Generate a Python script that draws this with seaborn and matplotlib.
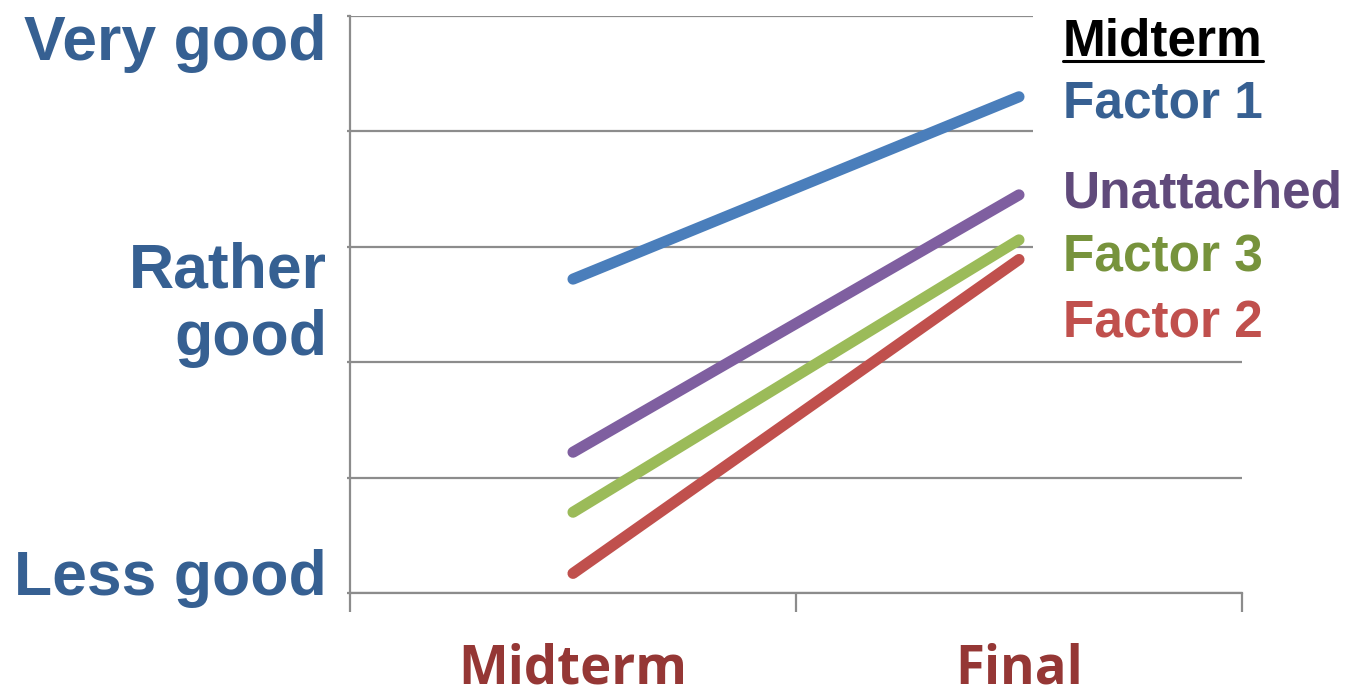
import matplotlib
matplotlib.use("Agg")
import matplotlib.pyplot as plt
import numpy as np
import pandas as pd
import seaborn as sns

# Survey waves and average rating per group (0 = less good ... 5 = very good)
waves = ["Midterm", "Final"]
groups = ["Factor 1", "Unattached", "Factor 3", "Factor 2"]
factor1 = [2.72, 4.30]
unattached = [1.22, 3.45]
factor3 = [0.70, 3.06]
factor2 = [0.17, 2.89]
level_labels = ["Very good", "Rather\ngood", "Less good"]
level_values = [4.62, 2.5, -0.02]
legend_title = "Midterm"

line_colors = {"Factor 1": "#4a7ebb", "Unattached": "#7f5fa0",
               "Factor 3": "#9bbb59", "Factor 2": "#c0504d"}
text_colors = {"Factor 1": "#376092", "Unattached": "#604a7b",
               "Factor 3": "#77933c", "Factor 2": "#c0504d"}

series = dict(zip(groups, [factor1, unattached, factor3, factor2]))
df = pd.DataFrame(
    [(g, w, v) for g, vals in series.items() for w, v in zip(waves, vals)],
    columns=["group", "wave", "score"],
)
df["pos"] = df["wave"].map({w: i for i, w in enumerate(waves)})

sns.set_theme(style="white")
plt.rcParams["font.family"] = ["Liberation Sans", "DejaVu Sans"]

W, H = 1358, 697
fig = plt.figure(figsize=(W / 100, H / 100), dpi=100)
ax = fig.add_axes([350 / W, 1 - 593 / H, (1242 - 350) / W, (593 - 16) / H])

grid_color = "#8c8c8c"
sns.lineplot(data=df, x="pos", y="score", hue="group", hue_order=groups,
             palette=line_colors, linewidth=8, legend=False, ax=ax,
             solid_capstyle="round", sort=False, zorder=3)

ax.set_xlim(-0.5, len(waves) - 0.5)
ax.set_ylim(0, 5)
ax.set_xticks(np.arange(-0.5, len(waves), 1.0))
ax.set_yticks(np.arange(0, 6, 1))
ax.set_xticklabels([])
ax.set_yticklabels([])
ax.set_xlabel("")
ax.set_ylabel("")
ax.yaxis.grid(True, color=grid_color, linewidth=1.6)
ax.xaxis.grid(False)
ax.tick_params(axis="x", direction="out", length=14, width=1.6,
               color=grid_color, bottom=True)
ax.tick_params(axis="y", direction="out", length=2.5, width=1.6,
               color=grid_color, left=True)
for side in ("top", "right"):
    ax.spines[side].set_visible(False)
for side in ("left", "bottom"):
    ax.spines[side].set_color(grid_color)
    ax.spines[side].set_linewidth(1.6)

# Category names under the axis
for i, w in enumerate(waves):
    ax.annotate(w, xy=(i, 0), xycoords=("data", "axes fraction"),
                xytext=(0, -91), textcoords="offset pixels",
                ha="center", va="baseline", fontsize=38, fontweight="bold",
                color="#953735", family=["Open Sans", "DejaVu Sans"])

# Rating levels to the left of the axis
for lab, val in zip(level_labels, level_values):
    va = "center" if "\n" in lab else "baseline"
    ax.annotate(lab, xy=(0, val), xycoords=("axes fraction", "data"),
                xytext=(-23, 0), textcoords="offset pixels",
                ha="right", va=va, fontsize=45, fontweight="bold",
                color="#366092", linespacing=1.18, annotation_clip=False)

# Group key on the right, on a white panel that hides the grid behind it
fig.patches.append(plt.Rectangle((1033 / W, 1 - 350 / H), (W - 1033) / W,
                                 (350 - 16.3) / H, transform=fig.transFigure,
                                 facecolor="white", edgecolor="none", zorder=5))
title = fig.text(1063 / W, 1 - 55 / H, legend_title, ha="left", va="baseline",
                 fontsize=37, fontweight="bold", color="black", zorder=6)
key_baselines = [118, 208, 272, 337]
for g, yb in zip(groups, key_baselines):
    fig.text(1063 / W, 1 - yb / H, g, ha="left", va="baseline",
             fontsize=37, fontweight="bold", color=text_colors[g], zorder=6)

fig.canvas.draw()
bb = title.get_window_extent()
fig.add_artist(plt.Line2D([bb.x0 / W, bb.x1 / W], [1 - 61 / H, 1 - 61 / H],
                          transform=fig.transFigure, color="black",
                          linewidth=2.2, zorder=6))

fig.savefig("out.png", dpi=100, facecolor="white")
